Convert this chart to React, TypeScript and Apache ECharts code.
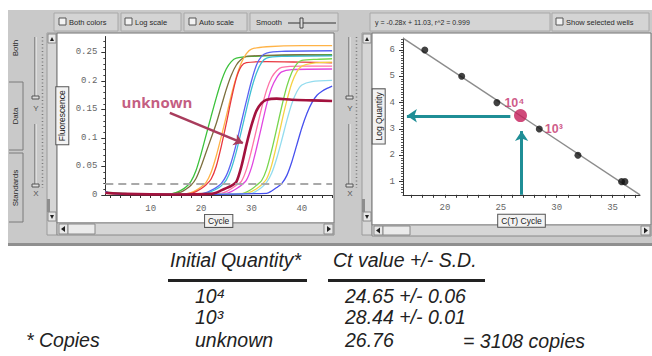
import React, { useEffect, useRef } from "react";
import * as echarts from "echarts";

// ---------------- data: amplification plot ----------------
const cycleLabelValues = [10, 20, 30, 40];
const cycleTickValues = [2, 4, 6, 8, 10, 12, 14, 16, 18, 20, 22, 24, 26, 28, 30, 32, 34, 36, 38, 40, 42, 44, 46];
const fluorescenceLabelValues = [0, 0.05, 0.1, 0.15, 0.2, 0.25];
const thresholdValue = 0.0216;

const curveGreen = [[1, .006], [2, .003], [4, .002], [10, .001], [14, .002], [15, .004], [16, .008], [17, .014], [18, .024], [19, .043], [20, .072], [21, .105], [22, .138], [23, .17], [24, .199], [25, .221], [26, .234], [27, .24], [30, .243], [36, .245], [46, .246]];
const curveOlive = [[1, .004], [3, .002], [8, .001], [14, .002], [16, .005], [17, .01], [18, .017], [19, .029], [20, .05], [21, .075], [22, .1], [23, .125], [24, .155], [25, .185], [26, .21], [27, .228], [28, .238], [29, .243], [33, .245], [40, .246], [46, .245]];
const curveOrange = [[1, .005], [3, .002], [10, .001], [17, .002], [18, .004], [19, .008], [20, .014], [21, .022], [22, .04], [23, .068], [24, .102], [25, .138], [26, .175], [27, .207], [28, .232], [29, .248], [30, .256], [33, .26], [40, .262], [46, .262]];
const curveRed = [[1, .003], [4, .002], [12, .001], [18, .003], [19, .006], [20, .011], [21, .018], [22, .028], [23, .05], [24, .085], [25, .125], [26, .168], [27, .205], [28, .226], [29, .232], [33, .234], [40, .233], [46, .232]];
const curveBlue = [[1, .005], [3, .003], [10, .001], [20, .002], [21, .004], [22, .008], [23, .013], [24, .02], [25, .034], [26, .058], [27, .09], [28, .128], [29, .165], [30, .2], [31, .228], [32, .243], [33, .249], [36, .252], [46, .253]];
const curveTeal = [[1, .004], [3, .002], [12, .001], [21, .003], [22, .006], [23, .01], [24, .016], [25, .026], [26, .046], [27, .076], [28, .112], [29, .15], [30, .186], [31, .214], [32, .232], [33, .24], [36, .243], [46, .244]];
const curveUnknown = [[1, .004], [5, .002], [15, .001], [22, .002], [23, .004], [24, .008], [25, .012], [26, .016], [27, .023], [28, .05], [29, .088], [30, .122], [31, .148], [32, .161], [33, .167], [35, .169], [38, .167], [42, .166], [46, .165]];
const curvePink = [[1, .003], [10, .001], [24, .003], [25, .006], [26, .011], [27, .017], [28, .024], [29, .045], [30, .078], [31, .115], [32, .152], [33, .184], [34, .206], [35, .218], [36, .224], [40, .226], [46, .226]];
const curveMagenta = [[1, .004], [10, .001], [25, .003], [26, .006], [27, .011], [28, .017], [29, .026], [30, .048], [31, .082], [32, .12], [33, .158], [34, .188], [35, .206], [36, .216], [38, .22], [46, .221]];
const curveLightGreen = [[1, .005], [10, .001], [28, .002], [29, .005], [30, .01], [31, .017], [32, .025], [33, .045], [34, .078], [35, .116], [36, .155], [37, .19], [38, .215], [39, .23], [40, .236], [43, .238], [46, .239]];
const curveYellow = [[1, .003], [10, .001], [29, .003], [30, .006], [31, .011], [32, .018], [33, .028], [34, .052], [35, .088], [36, .128], [37, .165], [38, .196], [39, .216], [40, .226], [42, .231], [46, .233]];
const curveLightCyan = [[1, .004], [10, .001], [30, .003], [31, .007], [32, .013], [33, .022], [34, .038], [35, .064], [36, .096], [37, .13], [38, .16], [39, .181], [40, .193], [42, .199], [46, .201]];
const curveBlue2 = [[1, .006], [3, .002], [10, .001], [33, .003], [34, .007], [35, .013], [36, .02], [37, .034], [38, .058], [39, .088], [40, .118], [41, .143], [42, .162], [43, .175], [44, .182], [45, .187], [46, .191]];

const unknownLabelAt = [11.25, 0.163];
const unknownArrowFrom = [13.8, 0.144];
const unknownArrowTo = [28.3, 0.091];

// ---------------- data: standard curve ----------------
const stdCt = [18.2, 21.5, 24.65, 28.44, 31.9, 35.8, 36.1];
const stdLogQuantity = [6, 5, 4, 3, 2, 1, 1];
const stdPointLabels = ["", "", "10⁴", "10³", "", "", ""];
const unknownCt = 26.76;
const unknownLogQuantity = 3.51;
const fitLineCt = [16.25, 37.45];
const fitLineLogQ = [6.45, 0.5];
const ctLabelValues = [20, 25, 30, 35];
const ctTickValues = [17, 18, 19, 20, 21, 22, 23, 24, 25, 26, 27, 28, 29, 30, 31, 32, 33, 34, 35, 36, 37];
const logQLabelValues = [1, 2, 3, 4, 5, 6];
const hArrowFrom = [25.85, 3.5];
const hArrowTo = [16.6, 3.5];
const vArrowFrom = [26.86, 0.5];
const vArrowTo = [26.86, 2.92];
const regressionText = "y = -0.28x + 11.03, r^2 = 0.999";

// ---------------- data: table & UI texts ----------------
const tableHeaders = ["Initial Quantity*", "Ct value +/- S.D."];
const tableQuantities = ["10⁴", "10³", "unknown"];
const tableCtValues = ["24.65 +/- 0.06", "28.44 +/- 0.01", "26.76"];
const tableFootnote = "* Copies";
const tableResult = "= 3108 copies";
const leftToolbarLabels = ["Both colors", "Log scale", "Auto scale"];
const sideTabs = ["Both", "Data", "Standards"];

const curveDefs = [
  { data: curveGreen, color: "#3cc23c", width: 1.3 },
  { data: curveOlive, color: "#7d6f3e", width: 1.3 },
  { data: curveOrange, color: "#ffb347", width: 1.3 },
  { data: curveRed, color: "#e8383f", width: 1.3 },
  { data: curveBlue, color: "#5a64f2", width: 1.3 },
  { data: curveTeal, color: "#3fbfd4", width: 1.3 },
  { data: curvePink, color: "#ff74a8", width: 1.3 },
  { data: curveMagenta, color: "#e046e0", width: 1.3 },
  { data: curveLightGreen, color: "#78d64e", width: 1.3 },
  { data: curveYellow, color: "#f5d245", width: 1.3 },
  { data: curveLightCyan, color: "#93dcef", width: 1.3 },
  { data: curveBlue2, color: "#4650ee", width: 1.3 },
  { data: curveUnknown, color: "#a3123e", width: 2.6 },
];

const SANS = "Liberation Sans";
const MONO = "Liberation Mono";

function R(x: number, y: number, w: number, h: number, fill: string, stroke?: string, z = -10) {
  return { type: "rect", z, silent: true, shape: { x, y, width: w, height: h }, style: { fill, stroke: stroke || "none", lineWidth: stroke ? 1 : 0 } };
}
function L(x1: number, y1: number, x2: number, y2: number, stroke: string, lw = 1, dash?: number[]) {
  return { type: "line", z: -5, silent: true, shape: { x1, y1, x2, y2 }, style: { stroke, lineWidth: lw, lineDash: dash } };
}
function PL(points: number[][], stroke: string, lw = 1) {
  return { type: "polyline", z: -5, silent: true, shape: { points }, style: { stroke, lineWidth: lw, fill: "none" } };
}
function TRI(points: number[][]) {
  return { type: "polygon", z: -4, silent: true, shape: { points }, style: { fill: "#222" } };
}
function T(text: string, x: number, y: number, size: number, extra: any = {}, rotation = 0) {
  return {
    type: "text", z: 10, silent: true, x, y, rotation,
    style: { text, fill: "#2a2a2a", fontSize: size, fontFamily: SANS, align: "left", verticalAlign: "middle", ...extra },
  };
}

function buildGui() {
  const g: any[] = [];
  // window chrome
  g.push(R(8, 10, 644, 236, "#c9c9c9"));
  g.push(R(8, 243, 644, 3, "#8f8f8f"));
  // toolbar group boxes
  [[54, 64], [121, 60], [184, 63], [250, 88], [370, 180], [552, 97]].forEach(([x, w]) => g.push(R(x, 13, w, 18, "#d4d4d4", "#a8a8a8")));
  // checkboxes
  [59, 125, 189, 556].forEach((x) => g.push(R(x, 18, 7, 7, "#f3f3f3", "#555", -4)));
  g.push(PL([[557.5, 21.5], [559.2, 24], [562.5, 18.8]], "#222", 1.3));
  const tbX = [69, 135, 199];
  leftToolbarLabels.forEach((t, i) => g.push(T(t, tbX[i], 22.5, 7.5)));
  g.push(T("Smooth", 256, 22.5, 7.5));
  g.push(L(288, 23, 336, 23, "#333", 1));
  g.push(R(300, 18, 3, 10, "#dedede", "#444", -4));
  g.push(T(regressionText, 375, 22.5, 7));
  g.push(T("Show selected wells", 566, 22.5, 7.5));

  // side tabs
  g.push(PL([[9, 82], [23, 82], [23, 150], [9, 150]], "#7a7a7a"));
  g.push(PL([[9, 153], [23, 153], [23, 222], [9, 222]], "#7a7a7a"));
  const tabY = [48, 116, 188];
  sideTabs.forEach((t, i) => g.push(T(t, 15.5, tabY[i], 8, { align: "center" }, Math.PI / 2)));

  // sliders
  [35, 349].forEach((sx) => {
    g.push(L(sx, 37, sx, 97, "#555"));
    g.push(L(sx + 1, 37, sx + 1, 97, "#f4f4f4"));
    g.push(R(sx - 3, 96, 7, 3, "#ddd", "#555", -4));
    g.push(T("Y", sx + 1, 108, 8, { align: "center", fill: "#555" }));
    g.push(L(sx, 124, sx, 184, "#555"));
    g.push(L(sx + 1, 124, sx + 1, 184, "#f4f4f4"));
    g.push(R(sx - 3, 184, 7, 3, "#ddd", "#555", -4));
    g.push(T("X", sx + 1, 193, 8, { align: "center", fill: "#555" }));
    g.push(L(sx + 7.5, 37, sx + 7.5, 188, "#7a7a7a", 1.5, [1, 2.5]));
  });

  // vertical scroll strips
  [47, 362].forEach((vx) => {
    g.push(R(vx, 33, 10, 202, "#d6d6d6", "#9a9a9a"));
    g.push(R(vx + 1, 34, 8, 9, "#e8e8e8", "#888", -9));
    g.push(TRI([[vx + 3, 41], [vx + 7, 41], [vx + 5, 37]]));
    g.push(R(vx + 1, 212, 8, 9, "#e8e8e8", "#888", -9));
    g.push(TRI([[vx + 3, 215], [vx + 7, 215], [vx + 5, 219]]));
    g.push(R(vx, 199, 3, 13, "#8d8d8d", undefined, -9));
  });

  // white plot panels
  g.push(R(57, 33, 277, 190, "#ffffff", "#707070"));
  g.push(R(372, 33, 279, 192, "#ffffff", "#707070"));

  // horizontal scrollbars
  g.push(R(57, 223, 277, 12, "#d6d6d6", "#8a8a8a"));
  g.push(R(59, 224, 9, 10, "#e8e8e8", "#888", -9));
  g.push(TRI([[61, 229], [65, 226], [65, 232]]));
  g.push(R(68, 224, 27, 10, "#ebebeb", "#888", -9));
  g.push(R(324, 224, 9, 10, "#e8e8e8", "#888", -9));
  g.push(TRI([[331, 229], [327, 226], [327, 232]]));
  g.push(R(372, 225, 279, 11, "#d6d6d6", "#8a8a8a"));
  g.push(R(374, 226, 9, 9, "#e8e8e8", "#888", -9));
  g.push(TRI([[376, 230.5], [380, 227.5], [380, 233.5]]));
  g.push(R(383, 226, 27, 9, "#ebebeb", "#888", -9));
  g.push(R(641, 226, 9, 9, "#e8e8e8", "#888", -9));
  g.push(TRI([[648, 230.5], [644, 227.5], [644, 233.5]]));

  // table
  const tStyle = { fontSize: 19.5, fontStyle: "italic", fill: "#222" };
  g.push(T(tableHeaders[0], 170, 260, 19.5, tStyle));
  g.push(T(tableHeaders[1], 333, 260, 19.5, tStyle));
  g.push(R(168, 279, 139, 3, "#222", undefined, 5));
  g.push(R(328, 279, 157, 3, "#222", undefined, 5));
  const rowY = [296, 317, 340];
  tableQuantities.forEach((t, i) => g.push(T(t, 195, rowY[i], 19.5, tStyle)));
  tableCtValues.forEach((t, i) => g.push(T(t, 345, rowY[i], 19.5, tStyle)));
  g.push(T(tableFootnote, 26, 340, 19.5, tStyle));
  g.push(T(tableResult, 463, 341, 19.5, tStyle));
  return g;
}

const nameBox = {
  fontSize: 8.5, fontFamily: SANS, color: "#222", borderColor: "#555", borderWidth: 1,
  backgroundColor: "#f3f3f3", padding: [1, 3], lineHeight: 10,
};
const tickLabel = { fontSize: 9, fontFamily: MONO, color: "#666" };

function buildOption(): any {
  const leftSeries: any[] = curveDefs.map((c, i) => ({
    type: "line", xAxisIndex: 0, yAxisIndex: 0, data: c.data, showSymbol: false, smooth: 0.25,
    silent: true, z: i === curveDefs.length - 1 ? 4 : 2,
    lineStyle: { color: c.color, width: c.width }, itemStyle: { color: c.color },
  }));
  leftSeries[0].markLine = {
    silent: true, symbol: ["none", "none"], label: { show: false },
    lineStyle: { type: [8, 5], color: "#a9a9a9", width: 2 },
    data: [{ yAxis: thresholdValue }],
  };
  leftSeries[leftSeries.length - 1].markLine = {
    silent: true, symbol: ["none", "arrow"], symbolSize: 9, label: { show: false },
    lineStyle: { type: "solid", color: "#a83c5c", width: 2.6 },
    data: [[{ coord: unknownArrowFrom }, { coord: unknownArrowTo }]],
  };
  leftSeries.push({
    type: "scatter", xAxisIndex: 0, yAxisIndex: 0, symbolSize: 0, silent: true,
    data: [unknownLabelAt],
    label: { show: true, position: "inside", formatter: "unknown", fontSize: 15, fontWeight: "bold", fontFamily: "Open Sans", color: "#b4325f" },
  });

  const stdData = stdCt.map((ct, i) => {
    const item: any = { value: [ct, stdLogQuantity[i]] };
    if (stdPointLabels[i]) {
      item.label = {
        show: true, formatter: stdPointLabels[i], position: "right", distance: i === 2 ? 4 : 2,
        fontSize: 12.5, fontWeight: "bold", fontFamily: SANS, color: "#c2306a",
      };
    }
    return item;
  });

  const rightSeries: any[] = [
    {
      type: "line", xAxisIndex: 1, yAxisIndex: 1, showSymbol: false, silent: true,
      data: fitLineCt.map((x, i) => [x, fitLineLogQ[i]]),
      lineStyle: { color: "#8c8c8c", width: 1.4 },
    },
    {
      type: "scatter", xAxisIndex: 1, yAxisIndex: 1, symbolSize: 7, silent: true,
      itemStyle: { color: "#111" }, data: stdData, z: 3,
    },
    {
      type: "scatter", xAxisIndex: 1, yAxisIndex: 1, symbolSize: 13, silent: true, z: 4,
      itemStyle: { color: "#c41e5a" }, data: [[unknownCt, unknownLogQuantity]],
      markLine: {
        silent: true, symbol: ["none", "arrow"], symbolSize: 10, label: { show: false },
        lineStyle: { type: "solid", color: "#1f8e96", width: 3 },
        data: [
          [{ coord: hArrowFrom }, { coord: hArrowTo }],
          [{ coord: vArrowFrom }, { coord: vArrowTo }],
        ],
      },
    },
  ];

  return {
    animation: false,
    backgroundColor: "#ffffff",
    grid: [
      { left: 105.3, top: 36.5, width: 226.8, height: 158.5 },
      { left: 403, top: 38.1, width: 237, height: 156.7 },
    ],
    xAxis: [
      {
        type: "value", gridIndex: 0, min: 1, max: 46,
        axisLine: { lineStyle: { color: "#333", width: 1 } },
        axisTick: { customValues: cycleTickValues, length: 3, lineStyle: { color: "#333" } },
        axisLabel: { customValues: cycleLabelValues, margin: 9, ...tickLabel },
        splitLine: { show: false },
        name: "Cycle", nameLocation: "middle", nameGap: 18, nameTextStyle: nameBox,
      },
      {
        type: "value", gridIndex: 1, min: 16.25, max: 37.45,
        axisLine: { onZero: false, lineStyle: { color: "#333", width: 1 } },
        axisTick: { customValues: ctTickValues, length: 3, lineStyle: { color: "#333" } },
        axisLabel: { customValues: ctLabelValues, margin: 9, ...tickLabel },
        splitLine: { show: false },
        name: "C(T) Cycle", nameLocation: "middle", nameGap: 20, nameTextStyle: nameBox,
      },
    ],
    yAxis: [
      {
        type: "value", gridIndex: 0, min: 0, max: 0.278,
        axisLine: { show: true, onZero: false, lineStyle: { color: "#333", width: 1 } },
        axisTick: { show: true, customValues: fluorescenceLabelValues, length: 4, lineStyle: { color: "#333" } },
        minorTick: { show: true, splitNumber: 5, length: 2, lineStyle: { color: "#444" } },
        axisLabel: { customValues: fluorescenceLabelValues, margin: 8, ...tickLabel },
        splitLine: { show: false },
        name: "Fluorescence", nameLocation: "middle", nameRotate: 90, nameGap: 37, nameTextStyle: nameBox,
      },
      {
        type: "value", gridIndex: 1, min: 0.5, max: 6.45,
        axisLine: { show: true, onZero: false, lineStyle: { color: "#333", width: 1 } },
        axisTick: { show: true, customValues: logQLabelValues, length: 4, lineStyle: { color: "#333" } },
        minorTick: { show: true, splitNumber: 10, length: 2, lineStyle: { color: "#555" } },
        axisLabel: { customValues: logQLabelValues, margin: 8, ...tickLabel },
        splitLine: { show: false },
        name: "Log Quantity", nameLocation: "middle", nameRotate: 90, nameGap: 17, nameTextStyle: nameBox,
      },
    ],
    graphic: { elements: buildGui() },
    series: [...leftSeries, ...rightSeries],
  };
}

export default function App() {
  const ref = useRef<HTMLDivElement>(null);
  useEffect(() => {
    if (!ref.current) return;
    const chart = echarts.init(ref.current, undefined, { renderer: "svg", width: 652, height: 356 });
    chart.setOption(buildOption());
    return () => chart.dispose();
  }, []);
  return <div ref={ref} style={{ position: "absolute", left: 0, top: 0, width: 652, height: 356 }} />;
}
